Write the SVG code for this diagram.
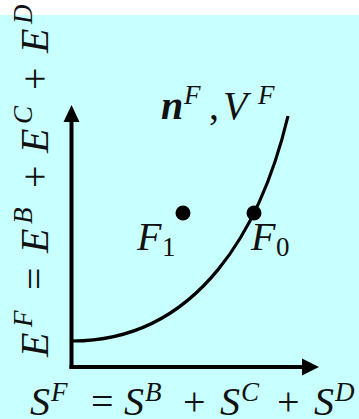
<svg xmlns="http://www.w3.org/2000/svg" width="359" height="419" viewBox="0 0 359 419">
<style>
text{font-family:"Liberation Serif","Times New Roman",serif;fill:#111;font-size:40px}
.i{font-style:italic}
.b{font-weight:bold}
.s{font-size:27px}
.ax{stroke:#000;stroke-width:4;fill:none}
.cv{stroke:#000;stroke-width:3.2;fill:none}
</style>
<rect x="0" y="0" width="359" height="419" fill="#ffffff"/>
<rect x="0" y="15" width="359" height="404" fill="#c8ffff"/>
<g id="connectors">
<path class="ax" d="M71.5,369 V119"/>
<path class="ax" d="M69.5,367 H304"/>
<polygon points="71.5,105 63.5,122 79.5,122" fill="#000"/>
<polygon points="319,367 302,358.5 302,375.5" fill="#000"/>
<path class="cv" d="M72,341 C200,341 262,225 288,116"/>
</g>
<g id="F1">
<circle cx="183" cy="213" r="7.5" fill="#000"/>
<text x="137" y="250"><tspan class="i">F</tspan><tspan class="s" x="162" y="256">1</tspan></text>
</g>
<g id="F0">
<circle cx="254" cy="213" r="7.5" fill="#000"/>
<text x="251" y="250"><tspan class="i">F</tspan><tspan class="s" x="276" y="256">0</tspan></text>
</g>
<g id="curve-label">
<text x="161" y="119"><tspan class="i b">n</tspan><tspan class="i s" x="184" y="104">F</tspan><tspan x="209" y="119">,</tspan><tspan class="i" x="223" y="119">V</tspan><tspan class="i s" x="258" y="104">F</tspan></text>
</g>
<g id="x-label">
<text y="415"><tspan class="i" x="30">S</tspan><tspan class="i s" x="51" y="401">F</tspan><tspan x="91" y="415">=</tspan><tspan class="i" x="124" y="415">S</tspan><tspan class="i s" x="145" y="401">B</tspan><tspan x="183" y="415">+</tspan><tspan class="i" x="220" y="415">S</tspan><tspan class="i s" x="241" y="401">C</tspan><tspan x="277" y="415">+</tspan><tspan class="i" x="314" y="415">S</tspan><tspan class="i s" x="335" y="401">D</tspan></text>
</g>
<g id="y-label" transform="translate(48,357) rotate(-90)">
<text y="0"><tspan class="i" x="0">E</tspan><tspan class="i s" x="30" y="-16">F</tspan><tspan x="67" y="0">=</tspan><tspan class="i" x="104" y="0">E</tspan><tspan class="i s" x="133" y="-16">B</tspan><tspan x="169" y="0">+</tspan><tspan class="i" x="204" y="0">E</tspan><tspan class="i s" x="233" y="-16">C</tspan><tspan x="267" y="0">+</tspan><tspan class="i" x="304" y="0">E</tspan><tspan class="i s" x="333" y="-16">D</tspan></text>
</g>
</svg>
